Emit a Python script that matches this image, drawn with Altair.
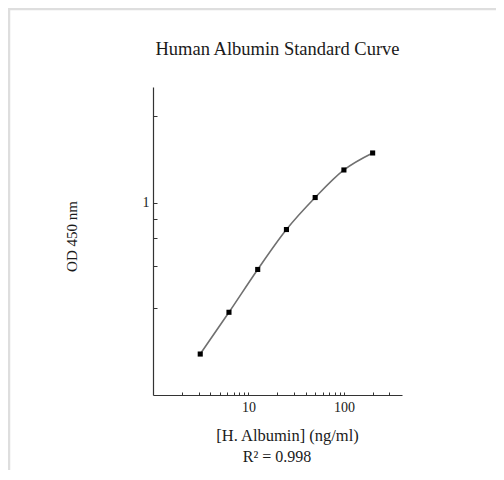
import altair as alt
import pandas as pd

# Data
conc = [3.125, 6.25, 12.5, 25, 50, 100, 200]
od450 = [0.296, 0.414, 0.584, 0.805, 1.041, 1.299, 1.489]

x_tick_values = [2, 3, 4, 5, 6, 7, 8, 9, 10, 20, 30, 40, 50, 60, 70, 80, 90, 100, 200, 300]
x_label_values = [10, 100]
y_tick_values = [0.43, 0.6, 0.75, 0.875, 1, 2]
y_label_values = [1]

title_text = "Human Albumin Standard Curve"
x_title = "[H. Albumin] (ng/ml)"
y_title = "OD 450 nm"
r2_text = "R² = 0.998"

df = pd.DataFrame({"conc": conc, "od": od450})

FONT = "Liberation Serif"
TXT = "#1a1a1a"
AX = "#333333"
W, H = 249, 308

xs = alt.Scale(type="log", domain=[1, 406], nice=False)
ys = alt.Scale(type="log", domain=[0.213, 2.53], nice=False)

main_x = alt.Axis(orient="bottom", values=x_label_values, ticks=False, grid=False,
                  domain=True, domainColor=AX, domainWidth=1.2,
                  labelFont=FONT, labelFontSize=14, labelColor=TXT, labelPadding=5,
                  format="d", title=x_title, titleFont=FONT, titleFontSize=16.5,
                  titleFontWeight="normal", titleColor=TXT, titleX=134, titleY=45,
                  titleBaseline="alphabetic", titleAlign="center")
tick_x = alt.Axis(orient="bottom", values=x_tick_values, labels=False, domain=False,
                  ticks=True, tickSize=3, tickColor=AX, tickWidth=1, offset=-3,
                  grid=False, title=None)
main_y = alt.Axis(orient="left", values=y_label_values, ticks=False, grid=False,
                  domain=True, domainColor=AX, domainWidth=1.2,
                  labelFont=FONT, labelFontSize=14, labelColor=TXT, labelPadding=4,
                  format="d", title=y_title, titleFont=FONT, titleFontSize=15,
                  titleFontWeight="normal", titleColor=TXT, titleX=-77, titleY=149,
                  titleBaseline="alphabetic", titleAlign="center", titleAngle=270)
tick_y = alt.Axis(orient="left", values=y_tick_values, labels=False, domain=False,
                  ticks=True, tickSize=4, tickColor=AX, tickWidth=1, offset=-4,
                  grid=False, title=None)

base = alt.Chart(df)

curve = base.mark_line(interpolate="monotone", color="#707070", strokeWidth=1.6).encode(
    x=alt.X("conc:Q", scale=xs, axis=main_x),
    y=alt.Y("od:Q", scale=ys, axis=main_y),
)
points = base.mark_square(size=26, color="#000000", opacity=1).encode(
    x=alt.X("conc:Q", scale=xs, axis=tick_x),
    y=alt.Y("od:Q", scale=ys, axis=tick_y),
)

r2 = alt.Chart(pd.DataFrame({"t": [r2_text]})).mark_text(
    font=FONT, fontSize=16, color=TXT, align="center", baseline="alphabetic"
).encode(text="t:N", x=alt.value(124), y=alt.value(375))

title_mark = alt.Chart(pd.DataFrame({"t": [title_text]})).mark_text(
    font=FONT, fontSize=18.5, color=TXT, align="center", baseline="alphabetic"
).encode(text="t:N", x=alt.value(124.5), y=alt.value(-32))

frame_top = alt.Chart(pd.DataFrame({"a": [0]})).mark_rule(color="#dedede", strokeWidth=2.5).encode(
    x=alt.value(-145), x2=alt.value(W + 94), y=alt.value(-78)
)
frame_left = alt.Chart(pd.DataFrame({"a": [0]})).mark_rule(color="#dedede", strokeWidth=2.5).encode(
    x=alt.value(-144), y=alt.value(-79), y2=alt.value(H + 75)
)

chart = alt.layer(frame_top, frame_left, curve, points, r2, title_mark).resolve_axis(
    x="independent", y="independent"
).properties(
    width=W, height=H,
    autosize=alt.AutoSizeParams(type="none"),
    padding={"left": 145, "top": 79, "right": 94, "bottom": 75},
).configure(background="white").configure_view(strokeWidth=0, stroke="transparent")

chart.save("out.html", embed_options={"renderer": "svg", "actions": False})
